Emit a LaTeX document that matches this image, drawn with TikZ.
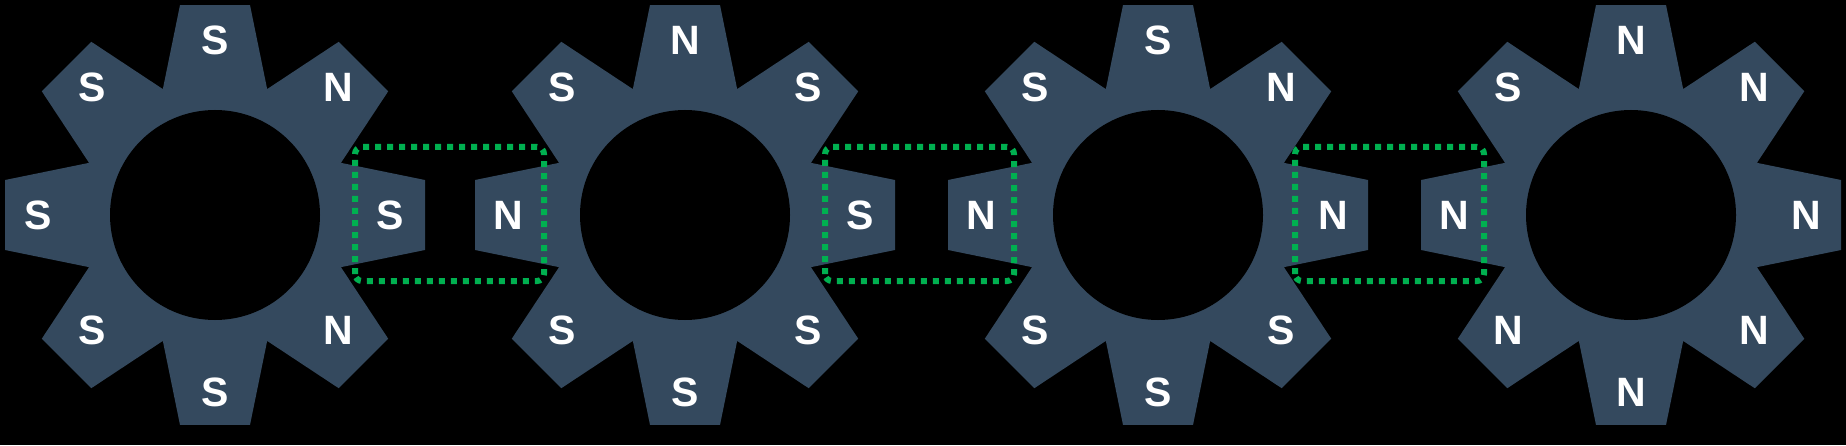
\documentclass[tikz,border=0pt]{standalone}
\usepackage{fontspec}
\setmainfont{Liberation Sans}
\definecolor{gearblue}{HTML}{34495E}
\definecolor{boxgreen}{HTML}{00B050}
\begin{document}
\begin{tikzpicture}[x=1pt,y=1pt,
  gearbody/.style={fill=gearblue},
  hole/.style={fill=black},
  pole/.style={text=white, font=\fontsize{41}{41}\selectfont\bfseries, inner sep=0pt, anchor=center},
  gapbox/.style={draw=boxgreen, line width=6pt, dash pattern=on 6pt off 6pt, rounded corners=7pt}]
\fill[black] (0,0) rectangle (1846,445);
\useasboundingbox (0,0) rectangle (1846,445);
\foreach \cx/\nm/\la/\lb/\lc/\ld/\le/\lf/\lg/\lh in {
  215/ga/S/N/S/N/S/S/S/S,
  685/gb/N/S/S/S/S/S/N/S,
  1158/gc/S/N/N/S/S/S/N/S,
  1631/gd/N/N/N/N/N/N/N/S}{
  \begin{scope}[shift={(\cx,230)}]
    \fill[gearbody] (-9.46:212.9) \foreach \a in {0,45,...,315}{ -- (\a-9.46:212.9) -- (\a+9.46:212.9) -- (\a+22.5:136.3)} -- cycle;
    \fill[hole] (0,0) circle (105);
    \node[pole] (\nm-t)  at (0,175) {\la};
    \node[pole] (\nm-tr) at (123,128) {\lb};
    \node[pole] (\nm-r)  at (175,0) {\lc};
    \node[pole] (\nm-br) at (123,-115) {\ld};
    \node[pole] (\nm-b)  at (0,-177) {\le};
    \node[pole] (\nm-bl) at (-123,-115) {\lf};
    \node[pole] (\nm-l)  at (-177,0) {\lg};
    \node[pole] (\nm-tl) at (-123,128) {\lh};
  \end{scope}
}
\foreach \bx/\nm in {355/ba, 825/bb, 1295/bc}{
  \draw[gapbox] (\bx,164) rectangle ++(189,134);
}
\end{tikzpicture}
\end{document}
